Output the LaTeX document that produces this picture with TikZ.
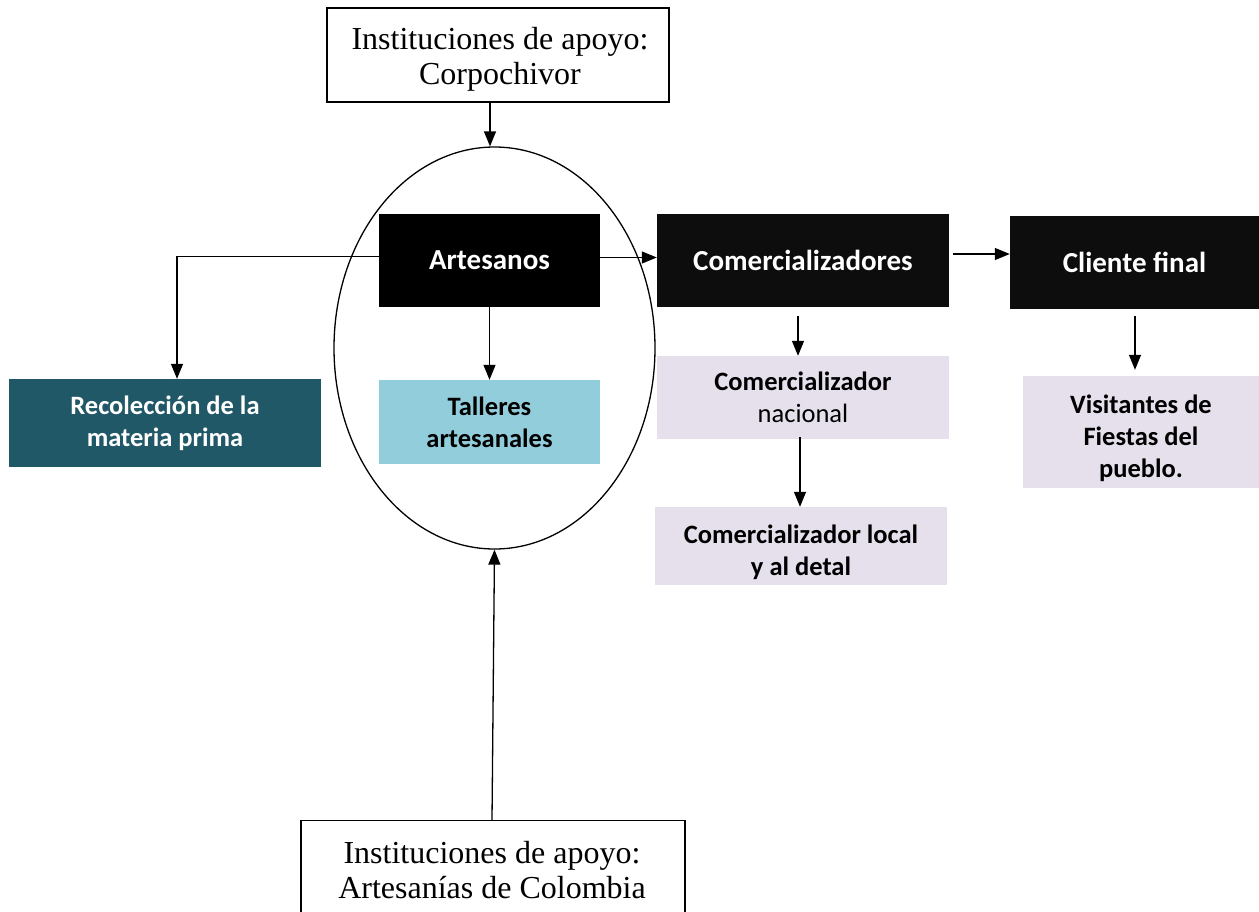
\documentclass[tikz,border=0pt]{standalone}
\usepackage{fontspec}
\setmainfont{Liberation Serif}
\newfontfamily\calib{Carlito}
\usetikzlibrary{shapes.geometric,arrows.meta,calc}
\definecolor{tealdark}{HTML}{215868}
\definecolor{lightblue}{HTML}{92CDDC}
\definecolor{lavender}{HTML}{E5E0EC}
\definecolor{nearblack}{HTML}{0D0D0D}
\begin{document}
\begin{tikzpicture}[x=1pt,y=-1pt,
  arr/.style={line width=1.3pt,-{Triangle[length=15pt,width=12pt]}},
  serifbox/.style={draw,line width=1.3pt,inner sep=0pt},
  seriftext/.style={inner sep=0pt,align=center,font=\fontsize{32}{35}\selectfont},
  darkbox/.style={fill=#1,inner sep=0pt,align=center,text=white,font=\calib\bfseries\fontsize{29}{32}\selectfont},
  lightbox/.style={fill=#1,inner sep=0pt,align=center,text=black,font=\calib\bfseries\fontsize{26.5}{32}\selectfont},
  plaintext/.style={inner sep=0pt,align=center,text=black,font=\calib\bfseries\fontsize{26.5}{32}\selectfont}]
\clip (0,0) rectangle (1259,911);
\fill[white] (0,0) rectangle (1259,911);
% top institution
\node[serifbox,minimum width=342pt,minimum height=94pt] (top) at (498,55) {};
\node[seriftext] (toptext) at ($(top.center)+(2,4)$) {Instituciones de apoyo:\\Corpochivor};
% ellipse
\node[draw,ellipse,line width=1.3pt,minimum width=321pt,minimum height=402pt,inner sep=0pt] (ell) at (494.5,348) {};
% main boxes
\node[darkbox=black,minimum width=221pt,minimum height=93pt] (art) at (489.5,260.5) {Artesanos};
\node[darkbox=nearblack,minimum width=292pt,minimum height=93pt] (com) at (803,260.5) {Comercializadores};
\node[darkbox=nearblack,minimum width=249pt,minimum height=93pt] (cli) at (1134.5,262.5) {Cliente final};
% sub boxes
\node[darkbox=tealdark,font=\calib\bfseries\fontsize{26.5}{32}\selectfont,minimum width=312pt,minimum height=88pt] (reco) at (165,423) {Recolección de la\\materia prima};
\node[lightbox=lightblue,minimum width=221pt,minimum height=84pt] (tall) at (489.5,422) {Talleres\\artesanales};
\node[lightbox=lavender,minimum width=292pt,minimum height=83pt] (nac) at (803,397.5) {Comercializador\\\mdseries nacional};
\node[lightbox=lavender,minimum width=292pt,minimum height=78pt] (loc) at (801,546) {};
\begin{scope}
  \clip (loc.south west) rectangle (loc.north east);
  \node[plaintext] (loctext) at ($(loc.center)+(0,6)$) {Comercializador local\\y al detal};
\end{scope}
\node[lightbox=lavender,minimum width=236pt,minimum height=112pt] (vis) at (1141,432) {};
\begin{scope}
  \clip (vis.south west) rectangle (vis.north east);
  \node[plaintext] (vistext) at ($(vis.center)+(0,6)$) {Visitantes de\\Fiestas del\\pueblo.};
\end{scope}
% bottom institution
\node[serifbox,minimum width=384pt,minimum height=110pt,anchor=north] (bot) at (493,820) {};
\node[seriftext] (bottext) at (492,870) {Instituciones de apoyo:\\Artesanías de Colombia};
% connectors
\coordinate (c1) at ($(top.south)+(-8,0)$);
\draw[arr] (c1) -- (c1 |- ell.north);
\coordinate (c2) at ($(art.west)+(0,-4)$);
\coordinate (c3) at ($(reco.north)+(12,0)$);
\draw[arr] (c2) -| (c3);
\draw[arr] (art.south) -- (tall.north);
\draw[arr] ($(art.east)+(0,-3)$) -- ($(com.west)+(0,-3)$);
\coordinate (c4) at ($(com.east)+(4,-6.5)$);
\draw[arr] (c4) -- (c4 -| cli.west);
\coordinate (c5) at ($(com.south)+(-5,9)$);
\draw[arr] (c5) -- (c5 |- nac.north);
\coordinate (c6) at ($(nac.south)+(-3,-2)$);
\draw[arr] (c6) -- (c6 |- loc.north);
\coordinate (c7) at ($(cli.south)+(0.5,7)$);
\draw[arr] (c7) -- ($(c7 |- vis.north)+(0,-6)$);
\draw[arr] ($(bot.north)+(-1,0)$) -- (ell.south);
\end{tikzpicture}
\end{document}
